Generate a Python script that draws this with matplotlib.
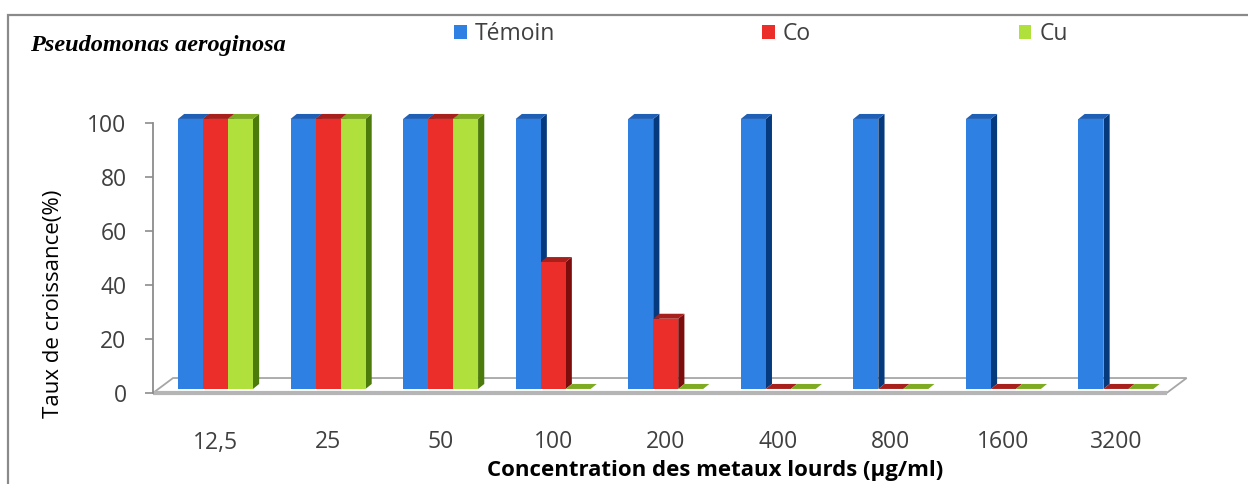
import matplotlib
matplotlib.use("Agg")
import matplotlib.pyplot as plt
from matplotlib.patches import Polygon, Rectangle, Patch

# data
concentrations = ["12,5", "25", "50", "100", "200", "400", "800", "1600", "3200"]
temoin = [100, 100, 100, 100, 100, 100, 100, 100, 100]
co = [100, 100, 100, 47, 26, 0, 0, 0, 0]
cu = [100, 100, 100, 0, 0, 0, 0, 0, 0]
series_names = ["Témoin", "Co", "Cu"]

# front / side / top colours for the fake 3D look
front_colors = ["#2F80E3", "#EC2E2B", "#B0E03C"]
side_colors = ["#063A7E", "#7D0C0C", "#4C7A0B"]
top_colors = ["#1F5FB5", "#A8201C", "#7EAB22"]

font = "Open Sans"
W, H = 1248, 484
fig = plt.figure(figsize=(W / 100, H / 100), dpi=100)

# frame around the chart area (cut at right and bottom like the original)
fig.patches.append(Rectangle((8 / W, -0.1), 1.2, (H - 15) / H + 0.1, transform=fig.transFigure,
                             fill=False, edgecolor="#8a8a8a", lw=1.6))

ax = fig.add_axes([153 / W, (H - 393) / H, 1035 / W, 297 / H])
ax.set_xlim(-0.555, 8.64)
ax.set_ylim(0, 110)

bar_w = 0.222
offsets = [-bar_w, 0, bar_w]
dx, dy = 0.055, 1.85        # bar depth
fdx, fdy = 0.178, 5.55      # floor depth
base = 1.5                  # bars stand a bit inside the floor

# floor slab
x_left, x_right = -0.555, 8.45
ax.add_patch(Polygon([(x_left, 0), (x_right, 0), (x_right + fdx, fdy), (x_left + fdx, fdy)],
                     closed=True, facecolor="white", edgecolor="#a6a6a6", lw=1.3, clip_on=False, zorder=1))
ax.plot([x_left, x_right], [0, 0], color="#b5b5b5", lw=3, solid_capstyle="butt", clip_on=False, zorder=1)

series = [temoin, co, cu]
for i in range(len(concentrations)):
    for s, vals in enumerate(series):
        v = vals[i]
        x0 = i + offsets[s] - bar_w / 2
        x1 = x0 + bar_w
        y0 = base
        y1 = base + v
        z = 2 + i * 3 + s
        ax.add_patch(Polygon([(x1, y0), (x1 + dx, y0 + dy), (x1 + dx, y1 + dy), (x1, y1)],
                             closed=True, facecolor=side_colors[s], edgecolor="none", zorder=z))
        ax.add_patch(Polygon([(x0, y1), (x1, y1), (x1 + dx, y1 + dy), (x0 + dx, y1 + dy)],
                             closed=True, facecolor=top_colors[s], edgecolor="none", zorder=z))
        ax.bar(i + offsets[s], v, width=bar_w, bottom=base, color=front_colors[s],
               edgecolor="none", zorder=z)

for sp in ["top", "right", "bottom"]:
    ax.spines[sp].set_visible(False)
ax.spines["left"].set_bounds(0, 100)
ax.spines["left"].set_color("#8c8c8c")
ax.spines["left"].set_linewidth(1.3)

ax.set_yticks([0, 20, 40, 60, 80, 100])
ax.tick_params(axis="y", direction="out", length=6, width=1.2, color="#8c8c8c", pad=13,
               labelsize=16.5, labelcolor="#404040")
ax.set_xticks(range(len(concentrations)))
ax.set_xticklabels(concentrations)
ax.tick_params(axis="x", length=0, pad=27, labelsize=16.5, labelcolor="#404040")
for lab in ax.get_xticklabels() + ax.get_yticklabels():
    lab.set_fontfamily(font)

ax.set_ylabel("Taux de croissance(%)", fontsize=16, fontfamily=font, color="#000000")
ax.yaxis.set_label_coords(-0.086, 0.30)
ax.set_xlabel("Concentration des metaux lourds (µg/ml)", fontsize=16, fontfamily=font,
              fontweight="bold", color="#000000")
ax.xaxis.set_label_coords(0.543, -0.225)

fig.text(30 / W, (H - 45) / H, "Pseudomonas aeroginosa", family="Liberation Serif",
         style="italic", weight="bold", fontsize=17.5, va="center", ha="left")

handles = [Patch(facecolor=c, edgecolor="none") for c in front_colors]
fig.legend(handles, series_names, loc="center left", bbox_to_anchor=(454 / W, (H - 34) / H),
           ncol=3, frameon=False, prop={"family": font, "size": 16.5},
           handlelength=0.56, handleheight=0.56, handletextpad=0.34, columnspacing=9.05,
           labelcolor="#404040", borderaxespad=0, borderpad=0)

fig.savefig("out.png", dpi=100)
